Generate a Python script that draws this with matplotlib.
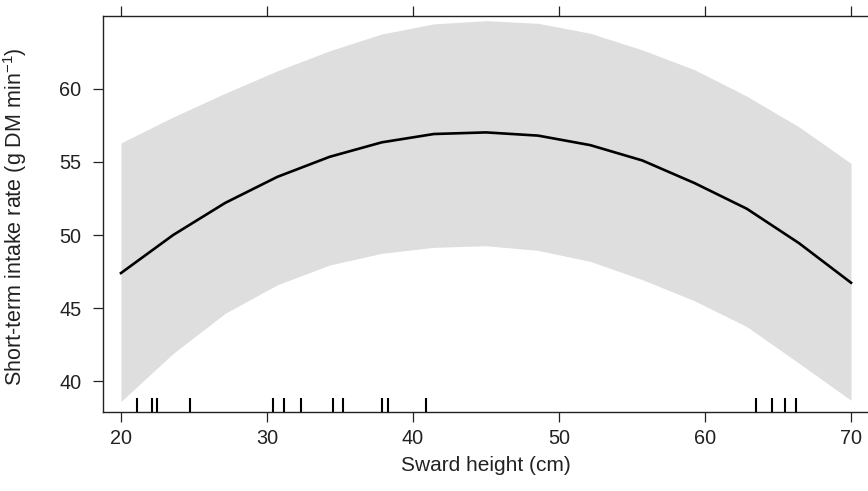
import matplotlib
matplotlib.use("Agg")
import matplotlib.pyplot as plt

plt.rcParams['font.family'] = ['Liberation Sans', 'DejaVu Sans']
plt.rcParams['mathtext.fontset'] = 'custom'
plt.rcParams['mathtext.rm'] = 'Liberation Sans'
plt.rcParams['mathtext.it'] = 'Liberation Sans:italic'

# fitted curve and confidence band
height = [20, 23.57, 27.14, 30.71, 34.29, 37.86, 41.43, 45,
          48.57, 52.14, 55.71, 59.29, 62.86, 66.43, 70]
fit = [47.4, 50.0, 52.2, 53.98, 55.35, 56.34, 56.91, 57.02,
       56.8, 56.15, 55.1, 53.55, 51.8, 49.45, 46.74]
upper = [56.3, 58.07, 59.7, 61.23, 62.6, 63.75, 64.44, 64.66,
         64.48, 63.8, 62.66, 61.3, 59.5, 57.4, 54.9]
lower = [38.62, 41.9, 44.65, 46.6, 47.95, 48.75, 49.16, 49.27,
         48.95, 48.2, 46.95, 45.5, 43.74, 41.24, 38.7]

# observed sward heights (rug)
rug_x = [21.1, 22.1, 22.5, 24.7, 30.4, 31.2, 32.35, 34.5, 35.2,
         37.85, 38.3, 40.9, 63.5, 64.6, 65.5, 66.2]

x_ticks = [20, 30, 40, 50, 60, 70]
y_ticks = [40, 45, 50, 55, 60]

fig = plt.figure(figsize=(8.68, 4.91), dpi=100)
ax = fig.add_axes([103 / 868, 79 / 491, 766 / 868, 396 / 491])

ax.fill_between(height, lower, upper, color='#dedede', linewidth=0)
ax.plot(height, fit, color='black', lw=1.9)
ax.vlines(rug_x, 0, 0.036, transform=ax.get_xaxis_transform(),
          color='black', lw=1.5)

ax.set_xlim(18.77, 71.23)
ax.set_ylim(37.9, 64.98)
ax.set_xticks(x_ticks)
ax.set_yticks(y_ticks)

for side in ['left', 'bottom', 'top']:
    ax.spines[side].set_color('#222222')
    ax.spines[side].set_linewidth(1.0)
ax.spines['right'].set_visible(False)

ax.tick_params(axis='both', direction='out', length=7.5, width=0.9,
               color='#222222', labelsize=14.3, labelcolor='#222222')
ax.tick_params(axis='x', top=True, labeltop=False, pad=5)
ax.tick_params(axis='y', pad=8)

ax.set_xlabel('Sward height (cm)', fontsize=15, color='#222222')
ax.set_ylabel('Short-term intake rate (g DM min$^{-1}$)', fontsize=15.5,
              color='#222222')
ax.xaxis.set_label_coords(0.5, -0.11)
ax.yaxis.set_label_coords(-0.097, 0.494)

fig.savefig('out.png', dpi=100)
